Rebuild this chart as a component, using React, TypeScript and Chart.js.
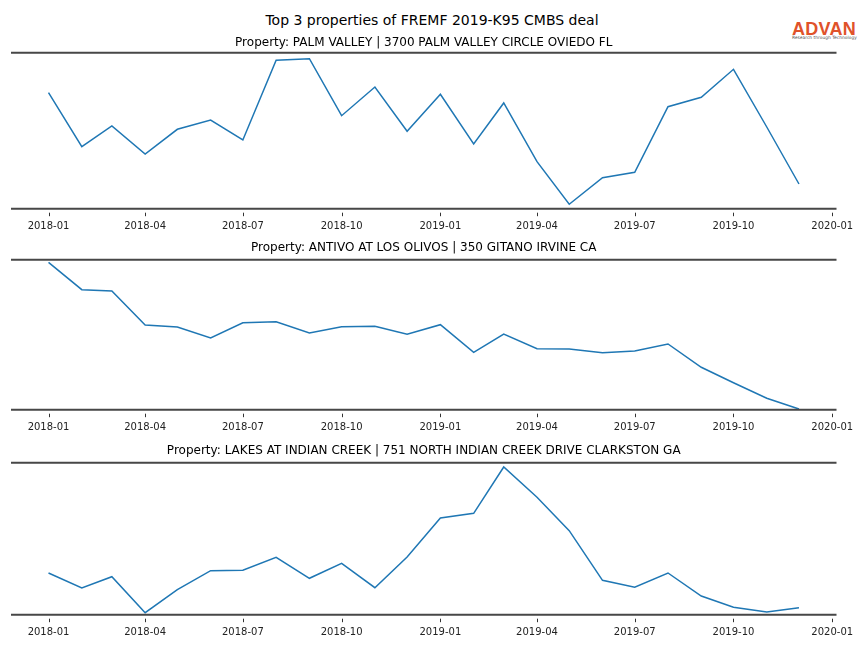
import React, { useEffect, useRef } from "react";
import { Chart, registerables } from "chart.js";

Chart.register(...registerables);

// ---- data ----
const months = [
  "2018-01", "2018-02", "2018-03", "2018-04", "2018-05", "2018-06",
  "2018-07", "2018-08", "2018-09", "2018-10", "2018-11", "2018-12",
  "2019-01", "2019-02", "2019-03", "2019-04", "2019-05", "2019-06",
  "2019-07", "2019-08", "2019-09", "2019-10", "2019-11", "2019-12",
];

const tickLabels = [
  "2018-01", "2018-04", "2018-07", "2018-10",
  "2019-01", "2019-04", "2019-07", "2019-10", "2020-01",
];

const mainTitle = "Top 3 properties of FREMF 2019-K95 CMBS deal";

const panelTitles = [
  "Property: PALM VALLEY | 3700 PALM VALLEY CIRCLE OVIEDO FL",
  "Property: ANTIVO AT LOS OLIVOS | 350 GITANO IRVINE CA",
  "Property: LAKES AT INDIAN CREEK | 751 NORTH INDIAN CREEK DRIVE CLARKSTON GA",
];

const palmValley = [
  116.0, 62.0, 82.7, 54.7, 79.4, 88.7, 68.7, 148.4, 150.0, 93.0, 121.7, 77.4,
  114.4, 64.7, 105.7, 47.0, 4.4, 31.0, 36.4, 102.0, 111.4, 139.4, 81.7, 24.7,
];

const antivo = [
  147.4, 120.0, 118.7, 84.7, 82.7, 71.7, 87.0, 88.0, 76.7, 83.0, 83.4, 75.4,
  85.0, 57.4, 75.7, 61.0, 60.7, 57.0, 58.7, 65.7, 42.4, 27.0, 11.4, 0.7,
];

const lakes = [
  41.7, 26.7, 38.0, 2.0, 25.0, 44.0, 44.4, 57.4, 36.4, 51.4, 27.0, 57.7,
  96.7, 101.4, 147.7, 117.4, 84.0, 34.4, 27.4, 41.7, 18.7, 7.4, 2.7, 7.0,
];

const seriesList = [palmValley, antivo, lakes];
const yMins = [0, 0, 0];
const yMaxs = [156, 150, 152];

// ---- helpers ----
const dayOf = (label: string) => {
  const [y, m] = label.split("-").map(Number);
  return (Date.UTC(y, m - 1, 1) - Date.UTC(2018, 0, 1)) / 86400000;
};

const firstDay = dayOf(months[0]);
const lastDay = dayOf(months[months.length - 1]);
const xMargin = (lastDay - firstDay) * 0.05;

const FONT = "'DejaVu Sans', 'Liberation Sans', sans-serif";

const panelLayout = [
  { top: 31, height: 208, titleTop: 4.5, titleBottom: 2.8 },
  { top: 238, height: 202, titleTop: 2.8, titleBottom: 4.5 },
  { top: 441, height: 204, titleTop: 2.8, titleBottom: 4.5 },
];

const spinePlugin = {
  id: "spines",
  afterDatasetsDraw(chart: any) {
    const { ctx, chartArea: a, scales } = chart;
    ctx.save();
    ctx.strokeStyle = "#474747";
    ctx.lineWidth = 2;
    ctx.beginPath();
    ctx.moveTo(a.left, a.top);
    ctx.lineTo(a.right, a.top);
    ctx.moveTo(a.left, a.bottom);
    ctx.lineTo(a.right, a.bottom);
    ctx.stroke();
    ctx.lineWidth = 1;
    ctx.strokeStyle = "#333333";
    ctx.beginPath();
    scales.x.ticks.forEach((t: any) => {
      const px = Math.round(scales.x.getPixelForValue(t.value)) + 0.5;
      ctx.moveTo(px, a.bottom + 4);
      ctx.lineTo(px, a.bottom + 7.5);
    });
    ctx.stroke();
    ctx.restore();
  },
};

function Panel({ index }: { index: number }) {
  const ref = useRef<HTMLCanvasElement | null>(null);
  const { top, height, titleTop, titleBottom } = panelLayout[index];

  useEffect(() => {
    if (!ref.current) return;
    const values = seriesList[index];
    const chart = new Chart(ref.current, {
      type: "line",
      data: {
        datasets: [
          {
            data: months.map((m, i) => ({ x: dayOf(m), y: values[i] })),
            borderColor: "#1f77b4",
            borderWidth: 1.5,
            pointRadius: 0,
            tension: 0,
            fill: false,
            clip: false as any,
          },
        ],
      },
      options: {
        animation: false,
        responsive: false,
        layout: { padding: { left: 11, right: 27.5, top: 0, bottom: 0 } },
        plugins: {
          legend: { display: false },
          tooltip: { enabled: false },
          title: {
            display: true,
            text: panelTitles[index],
            color: "#000000",
            font: { family: FONT, size: 12, weight: "normal" as any },
            padding: { top: titleTop, bottom: titleBottom },
          },
        },
        scales: {
          x: {
            type: "linear",
            min: firstDay - xMargin,
            max: lastDay + xMargin,
            grid: { display: false },
            border: { display: false },
            afterBuildTicks: (scale: any) => {
              scale.ticks = tickLabels.map((l) => ({ value: dayOf(l) }));
            },
            afterFit: (scale: any) => {
              scale.height = 30.3;
            },
            ticks: {
              autoSkip: false,
              maxRotation: 0,
              padding: 3.5,
              color: "#222222",
              font: { family: FONT, size: 10 },
              callback: (v: any) => {
                const lbl = tickLabels.find((l) => dayOf(l) === v);
                return lbl ?? "";
              },
            },
          },
          y: {
            display: false,
            min: yMins[index],
            max: yMaxs[index],
          },
        },
      },
      plugins: [spinePlugin],
    });
    return () => chart.destroy();
  }, [index]);

  return (
    <div style={{ position: "absolute", left: 0, top, width: 864, height }}>
      <canvas ref={ref} width={864} height={height} style={{ width: 864, height }} />
    </div>
  );
}

export default function App() {
  return (
    <div
      style={{
        position: "absolute",
        left: 0,
        top: 0,
        width: 864,
        height: 648,
        background: "#ffffff",
        overflow: "hidden",
      }}
    >
      <div
        style={{
          position: "absolute",
          left: 0,
          top: 13,
          width: 864,
          textAlign: "center",
          fontFamily: FONT,
          fontSize: 14,
          lineHeight: 1,
          color: "#000",
          whiteSpace: "nowrap",
        }}
      >
        {mainTitle}
      </div>
      <div
        style={{
          position: "absolute",
          left: 792,
          top: 20,
          fontFamily: "'Liberation Sans', Arial, sans-serif",
          fontWeight: "bold",
          fontSize: 18,
          lineHeight: 1,
          color: "#e0522a",
          letterSpacing: 0.3,
          whiteSpace: "nowrap",
        }}
      >
        ADVAN
      </div>
      <div
        style={{
          position: "absolute",
          left: 792,
          top: 35.5,
          fontFamily: FONT,
          fontSize: 4.4,
          lineHeight: 1,
          color: "#555",
          whiteSpace: "nowrap",
        }}
      >
        Research through Technology
      </div>
      {[0, 1, 2].map((i) => (
        <Panel key={i} index={i} />
      ))}
    </div>
  );
}
